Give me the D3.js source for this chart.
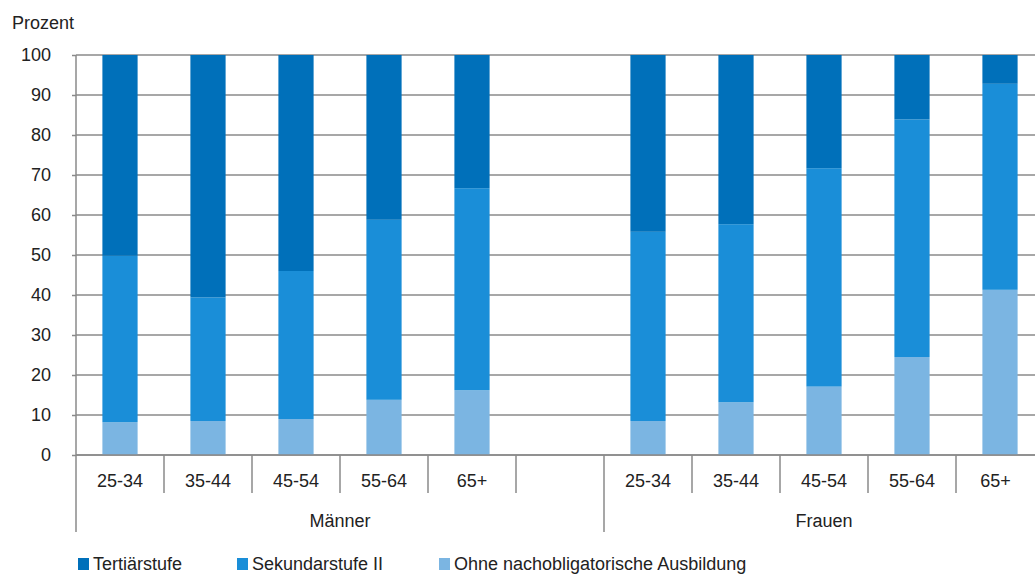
<!DOCTYPE html>
<html>
<head>
<meta charset="utf-8">
<script src="https://cdn.jsdelivr.net/npm/d3@7"></script>
<style>
  html, body { margin: 0; padding: 0; background: #fff; }
  svg { display: block; font-family: "Liberation Sans", Arial, sans-serif; }
</style>
</head>
<body>
<svg id="chart" width="1035" height="575"></svg>
<script>
// ---- data ----
const groups = ["Männer", "Frauen"];
const ageGroups = ["25-34", "35-44", "45-54", "55-64", "65+"];
const seriesNames = ["Tertiärstufe", "Sekundarstufe II", "Ohne nachobligatorische Ausbildung"];
const tertiaer = [50.2, 60.6, 54.0, 41.2, 33.3, 44.2, 42.3, 28.3, 16.1, 7.2];
const sekundar = [41.6, 30.9, 37.0, 45.0, 50.5, 47.3, 44.5, 54.6, 59.4, 51.5];
const ohne     = [8.2, 8.5, 9.0, 13.8, 16.2, 8.5, 13.2, 17.1, 24.5, 41.3];
const yTicks = [0, 10, 20, 30, 40, 50, 60, 70, 80, 90, 100];
const yTitle = "Prozent";
const colors = ["#0070BA", "#1A8ED8", "#7BB5E2"];

// ---- build slots: Männer 5 + empty, Frauen 5 ----
const slots = [];
const rows = [];
let k = 0;
groups.forEach((g, gi) => {
  ageGroups.forEach(a => {
    const key = g + "|" + a;
    slots.push(key);
    rows.push({ key, age: a, group: g, ohne: ohne[k], sek: sekundar[k], tert: tertiaer[k] });
    k++;
  });
  if (gi === 0) slots.push("gap");
});

const svg = d3.select("#chart");
const pLeft = 76, pRight = 1044, pTop = 55, pBottom = 455;

const x = d3.scaleBand().domain(slots).range([pLeft, pRight]).paddingInner(0.6).paddingOuter(0.3);
const y = d3.scaleLinear().domain([0, 100]).range([pBottom, pTop]);
const step = x.step();

const gridColor = "#8a8a8a";
const textColor = "#222";

// gridlines
svg.append("g").selectAll("line").data(yTicks).join("line")
  .attr("x1", pLeft).attr("x2", 1035)
  .attr("y1", d => y(d)).attr("y2", d => y(d))
  .attr("stroke", gridColor).attr("stroke-width", 1.5);

// y axis
const yAxis = d3.axisLeft(y).tickValues(yTicks).tickSize(4).tickPadding(21);
const yg = svg.append("g").attr("transform", `translate(${pLeft},0)`).call(yAxis);
yg.select(".domain").remove();
yg.selectAll(".tick line").attr("stroke", gridColor).attr("stroke-width", 1.5);
yg.selectAll(".tick text").attr("fill", textColor).style("font-size", "18px")
  .style("font-family", '"Liberation Sans", Arial, sans-serif');

svg.append("text").attr("x", 12).attr("y", 29).attr("fill", textColor)
  .style("font-size", "18px").text(yTitle);

// stacked bars
const stack = d3.stack().keys(["ohne", "sek", "tert"]);
const stacked = stack(rows);
const colorByKey = { tert: colors[0], sek: colors[1], ohne: colors[2] };
svg.append("g").selectAll("g").data(stacked).join("g")
  .attr("fill", d => colorByKey[d.key])
  .selectAll("rect").data(d => d).join("rect")
  .attr("x", d => x(d.data.key))
  .attr("width", x.bandwidth())
  .attr("y", d => y(d[1]))
  .attr("height", d => y(d[0]) - y(d[1]));

// axis lines
svg.append("line").attr("x1", pLeft).attr("x2", pLeft).attr("y1", pTop).attr("y2", 532)
  .attr("stroke", gridColor).attr("stroke-width", 1.5);
svg.append("line").attr("x1", pLeft).attr("x2", 1035).attr("y1", pBottom).attr("y2", pBottom)
  .attr("stroke", gridColor).attr("stroke-width", 1.5);

// category separators
const boundaries = slots.map((s, i) => pLeft + (i + 1) * step);
const groupBoundaryIdx = [5, 10];
svg.append("g").selectAll("line").data(boundaries).join("line")
  .attr("x1", d => d).attr("x2", d => d)
  .attr("y1", pBottom).attr("y2", (d, i) => groupBoundaryIdx.includes(i) ? 532 : 493)
  .attr("stroke", gridColor).attr("stroke-width", 1.5);

// category labels (last one centred in its visible part, as in the reference)
svg.append("g").selectAll("text").data(rows).join("text")
  .attr("x", (d, i) => {
    const start = x(d.key) - x.paddingInner() * step / 2;
    const end = Math.min(start + step, 1035);
    return (start + end) / 2;
  })
  .attr("y", 487)
  .attr("text-anchor", "middle")
  .attr("fill", textColor).style("font-size", "18px")
  .text(d => d.age);

// group labels
const groupRanges = [[pLeft, pLeft + 6 * step], [pLeft + 6 * step, pLeft + 11 * step]];
svg.append("g").selectAll("text").data(groups).join("text")
  .attr("x", (d, i) => (groupRanges[i][0] + groupRanges[i][1]) / 2)
  .attr("y", 527)
  .attr("text-anchor", "middle")
  .attr("fill", textColor).style("font-size", "18px")
  .text(d => d);

// legend
const legendX = [78, 237, 439];
const lg = svg.append("g").selectAll("g").data(seriesNames).join("g")
  .attr("transform", (d, i) => `translate(${legendX[i]},0)`);
lg.append("rect").attr("x", 0).attr("y", 558).attr("width", 11).attr("height", 12)
  .attr("fill", (d, i) => colors[i]);
lg.append("text").attr("x", 15).attr("y", 570).attr("fill", textColor)
  .style("font-size", "18px").text(d => d);
</script>
</body>
</html>
